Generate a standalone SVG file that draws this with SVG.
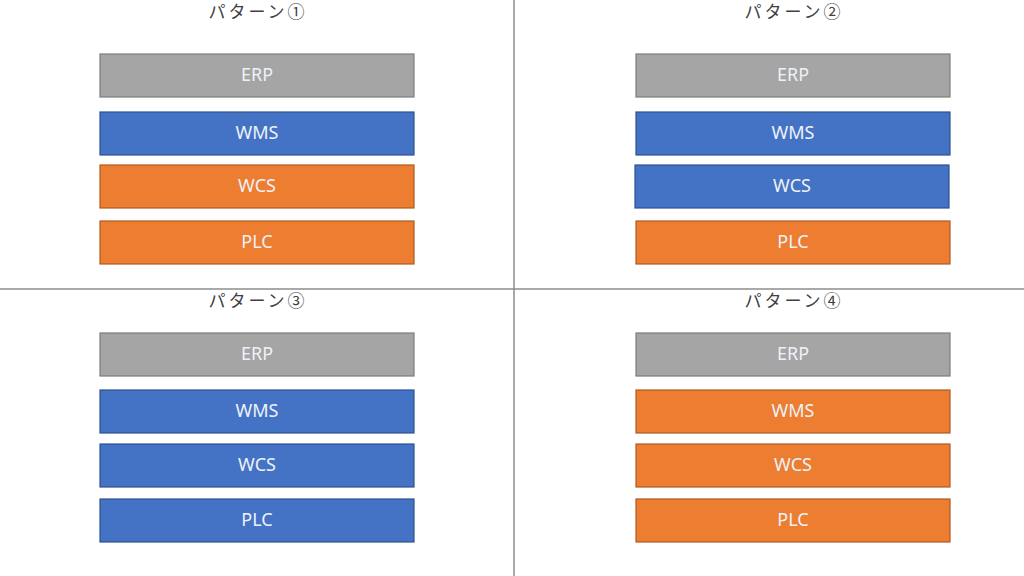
<svg xmlns="http://www.w3.org/2000/svg" width="1024" height="576" viewBox="0 0 1024 576">
<style>
.t{font-family:"Noto Sans CJK JP","Noto Sans",sans-serif;font-size:17px;letter-spacing:3px;fill:#404040;text-anchor:middle}
.b{stroke-width:1.2}
.g{fill:#A5A5A5;stroke:#7C7C7C}
.u{fill:#4472C4;stroke:#2F528F}
.o{fill:#ED7D31;stroke:#AE5A21}
.l{font-family:"Noto Sans","Liberation Sans",sans-serif;font-size:18px;fill:#EEF2F8;text-anchor:middle}
.div{stroke:#8C8C8C;stroke-width:1.5}
</style>
<rect width="1024" height="576" fill="#fff"/>
<g id="dividers">
<line class="div" x1="0" y1="289" x2="1024" y2="289"/>
<line class="div" x1="514" y1="0" x2="514" y2="576"/>
</g>
<g id="p1">
<text class="t" x="258" y="18">パターン①</text>
<g id="p1-erp"><rect class="b g" x="100" y="54" width="314" height="43"/><text class="l" x="257" y="81">ERP</text></g>
<g id="p1-wms"><rect class="b u" x="100" y="112" width="314" height="43"/><text class="l" x="257" y="139">WMS</text></g>
<g id="p1-wcs"><rect class="b o" x="100" y="165" width="314" height="43"/><text class="l" x="257" y="192">WCS</text></g>
<g id="p1-plc"><rect class="b o" x="100" y="221" width="314" height="43"/><text class="l" x="257" y="248">PLC</text></g>
</g>
<g id="p2">
<text class="t" x="794" y="18">パターン②</text>
<g id="p2-erp"><rect class="b g" x="636" y="54" width="314" height="43"/><text class="l" x="793" y="81">ERP</text></g>
<g id="p2-wms"><rect class="b u" x="636" y="112" width="314" height="43"/><text class="l" x="793" y="139">WMS</text></g>
<g id="p2-wcs"><rect class="b u" x="635" y="165" width="314" height="43"/><text class="l" x="792" y="192">WCS</text></g>
<g id="p2-plc"><rect class="b o" x="636" y="221" width="314" height="43"/><text class="l" x="793" y="248">PLC</text></g>
</g>
<g id="p3">
<text class="t" x="258" y="307">パターン③</text>
<g id="p3-erp"><rect class="b g" x="100" y="333" width="314" height="43"/><text class="l" x="257" y="360">ERP</text></g>
<g id="p3-wms"><rect class="b u" x="100" y="390" width="314" height="43"/><text class="l" x="257" y="417">WMS</text></g>
<g id="p3-wcs"><rect class="b u" x="100" y="444" width="314" height="43"/><text class="l" x="257" y="471">WCS</text></g>
<g id="p3-plc"><rect class="b u" x="100" y="499" width="314" height="43"/><text class="l" x="257" y="526">PLC</text></g>
</g>
<g id="p4">
<text class="t" x="794" y="307">パターン④</text>
<g id="p4-erp"><rect class="b g" x="636" y="333" width="314" height="43"/><text class="l" x="793" y="360">ERP</text></g>
<g id="p4-wms"><rect class="b o" x="636" y="390" width="314" height="43"/><text class="l" x="793" y="417">WMS</text></g>
<g id="p4-wcs"><rect class="b o" x="636" y="444" width="314" height="43"/><text class="l" x="793" y="471">WCS</text></g>
<g id="p4-plc"><rect class="b o" x="636" y="499" width="314" height="43"/><text class="l" x="793" y="526">PLC</text></g>
</g>
</svg>
